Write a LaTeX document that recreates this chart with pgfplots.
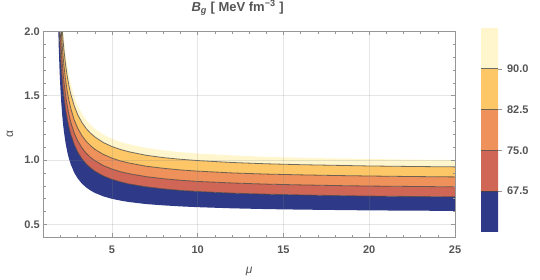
\documentclass[border=0pt]{standalone}
\usepackage{pgfplots}
\pgfplotsset{compat=1.18}
\usepackage{pgfplotstable}
\usepgfplotslibrary{fillbetween}
\usepackage{fontspec}
\setmainfont{Liberation Sans}

\definecolor{cBlue}{RGB}{46,58,135}
\definecolor{cRed}{RGB}{207,102,86}
\definecolor{cOrange}{RGB}{238,145,90}
\definecolor{cLight}{RGB}{253,198,102}
\definecolor{cPale}{RGB}{255,246,205}
\definecolor{frameGray}{RGB}{150,150,150}
\definecolor{textGray}{RGB}{85,85,85}

\pgfplotstableread{
mu a60 a67 a75 a82 a90 a97
1.85 2.147 2.304 2.549 2.738 2.829 2.976
1.9 1.878 2.101 2.305 2.477 2.584 2.717
1.95 1.689 1.942 2.120 2.279 2.394 2.517
2.0 1.548 1.816 1.974 2.124 2.243 2.359
2.05 1.439 1.713 1.857 2.000 2.121 2.230
2.1 1.352 1.627 1.761 1.897 2.019 2.122
2.15 1.281 1.555 1.680 1.811 1.933 2.032
2.2 1.223 1.493 1.612 1.738 1.859 1.955
2.3 1.131 1.392 1.501 1.621 1.740 1.830
2.4 1.062 1.313 1.417 1.531 1.648 1.733
2.5 1.009 1.251 1.349 1.460 1.574 1.656
2.6 0.967 1.200 1.295 1.402 1.514 1.593
2.8 0.903 1.121 1.211 1.313 1.422 1.496
3.0 0.858 1.063 1.151 1.249 1.354 1.426
3.25 0.817 1.010 1.095 1.190 1.292 1.360
3.5 0.787 0.970 1.053 1.146 1.245 1.311
3.75 0.764 0.939 1.021 1.112 1.209 1.273
4.0 0.745 0.914 0.996 1.084 1.180 1.243
4.5 0.718 0.876 0.957 1.044 1.136 1.197
5 0.699 0.850 0.930 1.015 1.105 1.165
5.5 0.685 0.830 0.909 0.993 1.082 1.141
6 0.674 0.814 0.894 0.977 1.064 1.122
7 0.658 0.792 0.871 0.952 1.037 1.094
8 0.648 0.776 0.855 0.936 1.019 1.075
9 0.640 0.764 0.843 0.923 1.006 1.061
10 0.634 0.756 0.834 0.914 0.996 1.051
12 0.625 0.743 0.822 0.900 0.981 1.036
14 0.619 0.735 0.813 0.891 0.971 1.025
16 0.615 0.729 0.807 0.885 0.964 1.018
18 0.612 0.724 0.802 0.880 0.959 1.012
20 0.609 0.720 0.798 0.876 0.954 1.008
22.5 0.607 0.717 0.795 0.872 0.950 1.003
25 0.605 0.714 0.792 0.869 0.947 1.000
}\curves

\begin{document}
\begin{tikzpicture}
\pgfplotsset{
  mystyle/.style={
    scale only axis,
    axis line style={frameGray},
    tick style={frameGray, line width=0.5pt},
    ticklabel style={font=\bfseries\fontsize{11}{12}\selectfont, text=textGray},
    /pgf/number format/assume math mode=true,
  },
  contour/.style={draw=black!75, draw opacity=0.75, line width=0.8pt},
}
\begin{axis}[
  mystyle,
  width=411.7pt, height=206pt,
  xmin=1, xmax=25, ymin=0.4, ymax=2.0,
  xtick={5,10,15,20,25},
  ytick={0.5,1.0,1.5,2.0},
  minor xtick={2,3,4,6,7,8,9,11,12,13,14,16,17,18,19,21,22,23,24},
  minor ytick={0.6,0.7,0.8,0.9,1.1,1.2,1.3,1.4,1.6,1.7,1.8,1.9},
  yticklabel style={/pgf/number format/fixed, /pgf/number format/fixed zerofill, /pgf/number format/precision=1},
  xticklabel style={anchor=base, yshift=-16pt},
  tick align=inside,
  major tick length=4pt, minor tick length=2.3pt,
  grid=major,
  major grid style={gray, opacity=0.2, line width=0.5pt},
  axis on top,
  xlabel={\itshape μ},
  xlabel style={at={(axis description cs:0.5,0)}, anchor=base, yshift=-36pt, font=\fontsize{12}{13}\selectfont, text=textGray},
  ylabel={α},
  ylabel style={at={(axis description cs:-0.081,0.5)}, anchor=center, font=\fontsize{12}{13}\selectfont, text=textGray},
  title={\textbf{\textit{B}\textsubscript{\textit{g}} [ MeV fm\textsuperscript{−3} ]}},
  title style={at={(axis description cs:0.3515,1)}, anchor=base west, yshift=14pt, font=\fontsize{13}{14}\selectfont, text=textGray},
]
\addplot[draw=none, name path=c60] table[x=mu, y=a60] {\curves};
\addplot[draw=none, name path=c67] table[x=mu, y=a67] {\curves};
\addplot[draw=none, name path=c75] table[x=mu, y=a75] {\curves};
\addplot[draw=none, name path=c82] table[x=mu, y=a82] {\curves};
\addplot[draw=none, name path=c90] table[x=mu, y=a90] {\curves};
\addplot[draw=none, name path=c97] table[x=mu, y=a97] {\curves};

\addplot[fill=cBlue, draw=none] fill between[of=c67 and c60];
\addplot[fill=cRed, draw=none] fill between[of=c75 and c67];
\addplot[fill=cOrange, draw=none] fill between[of=c82 and c75];
\addplot[fill=cLight, draw=none] fill between[of=c90 and c82];
\addplot[fill=cPale, draw=none] fill between[of=c97 and c90];

\addplot[contour] table[x=mu, y=a67] {\curves};
\addplot[contour] table[x=mu, y=a75] {\curves};
\addplot[contour] table[x=mu, y=a82] {\curves};
\addplot[contour] table[x=mu, y=a90] {\curves};
\end{axis}

\begin{axis}[
  mystyle,
  at={(437.7pt,5.3pt)}, anchor=south west,
  width=17pt, height=204pt,
  xmin=0, xmax=1, ymin=60, ymax=97.5,
  xtick=\empty,
  ytick={67.5,75,82.5,90},
  ytick pos=right, yticklabel pos=right,
  yticklabel style={xshift=2pt, /pgf/number format/fixed, /pgf/number format/fixed zerofill, /pgf/number format/precision=1},
  tick align=outside, major tick length=3.5pt,
  axis line style={draw=none},
]
\addplot[fill=cBlue, draw=none] coordinates {(0,60) (1,60) (1,67.5) (0,67.5) (0,60)};
\addplot[fill=cRed, draw=none] coordinates {(0,67.5) (1,67.5) (1,75) (0,75) (0,67.5)};
\addplot[fill=cOrange, draw=none] coordinates {(0,75) (1,75) (1,82.5) (0,82.5) (0,75)};
\addplot[fill=cLight, draw=none] coordinates {(0,82.5) (1,82.5) (1,90) (0,90) (0,82.5)};
\addplot[fill=cPale, draw=none] coordinates {(0,90) (1,90) (1,97.5) (0,97.5) (0,90)};
\addplot[contour] coordinates {(0,67.5) (1,67.5)};
\addplot[contour] coordinates {(0,75) (1,75)};
\addplot[contour] coordinates {(0,82.5) (1,82.5)};
\addplot[contour] coordinates {(0,90) (1,90)};
\end{axis}

\pgfresetboundingbox
\path (-43.3pt,-42.7pt) rectangle (496.7pt,237.3pt);
\end{tikzpicture}
\end{document}
